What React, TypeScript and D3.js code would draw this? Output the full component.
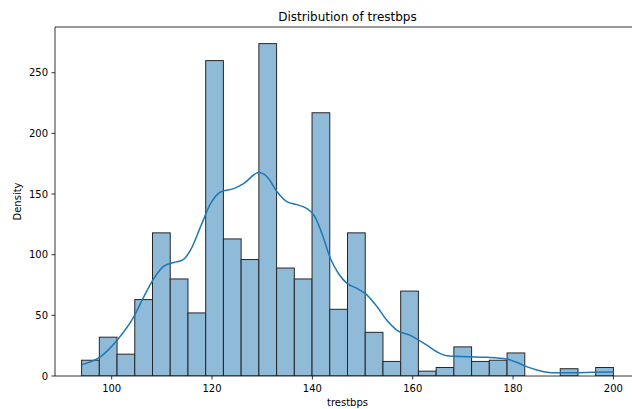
import React from "react";
import * as d3 from "d3";

// Histogram of resting blood pressure (30 equal-width bins from 94 to 200)
const binStart = 94;
const binEnd = 200;
const binCounts = [
  13, 32, 18, 63, 118, 80, 52, 260, 113, 96, 274, 89, 80, 217, 55, 118, 36, 12, 70, 4,
  7, 24, 12, 13, 19, 0, 0, 6, 0, 7,
];

// Kernel density estimate, scaled to the histogram
const kdeX = [
  94.0, 97.8, 101.1, 104.4, 106.4, 108.4, 110.4, 112.4, 114.1, 115.7, 117.7, 119.7, 121.7,
  124.3, 126.3, 129.3, 131.0, 133.0, 135.0, 136.9, 138.9, 140.4, 141.9, 143.6, 145.2, 146.9,
  148.9, 150.9, 152.9, 154.8, 156.8, 159.5, 162.8, 164.8, 166.8, 170.8, 174.7, 178.7, 180.7,
  182.7, 185.3, 188.0, 192.0, 196.0, 200.0,
];
const kdeY = [
  9.3, 15.9, 29.6, 48.8, 65.3, 80.4, 90.6, 93.6, 95.5, 103.7, 122.9, 142.0, 151.7, 154.5,
  158.6, 167.7, 164.1, 151.7, 143.5, 141.3, 138.0, 132.0, 117.5, 96.9, 84.5, 76.3, 72.2,
  66.7, 57.1, 46.1, 37.9, 33.5, 25.5, 20.0, 16.7, 15.9, 15.4, 14.0, 11.3, 7.7, 4.4, 2.7,
  2.7, 3.0, 3.3,
];

const xTicks = [100, 120, 140, 160, 180, 200];
const yTicks = [0, 50, 100, 150, 200, 250];

const W = 632;
const H = 409;
const margin = { left: 55, top: 27, right: 640, bottom: 376 };

export default function App() {
  const nBins = binCounts.length;
  const binW = (binEnd - binStart) / nBins;
  const pad = (binEnd - binStart) * 0.05;
  const x = d3.scaleLinear().domain([binStart - pad, binEnd + pad]).range([margin.left, margin.right]);
  const yMax = (d3.max(binCounts) ?? 0) * 1.05;
  const y = d3.scaleLinear().domain([0, yMax]).range([margin.bottom, margin.top]);

  const bins = binCounts.map((c, i) => ({
    x0: binStart + i * binW,
    x1: binStart + (i + 1) * binW,
    c,
  }));

  const line = d3
    .line<number>()
    .x((_, i) => x(kdeX[i]))
    .y((d) => y(d))
    .curve(d3.curveMonotoneX);

  const font = "DejaVu Sans, sans-serif";
  const textColor = "#000";

  return (
    <svg
      width={W}
      height={H}
      style={{ position: "absolute", left: 0, top: 0, background: "#fff" }}
      fontFamily={font}
    >
      <defs>
        <clipPath id="plot-clip">
          <rect x={margin.left} y={margin.top} width={margin.right - margin.left} height={margin.bottom - margin.top} />
        </clipPath>
      </defs>
      <g clipPath="url(#plot-clip)">
        {bins
          .filter((b) => b.c > 0)
          .map((b, i) => (
            <rect
              key={i}
              x={x(b.x0)}
              y={y(b.c)}
              width={x(b.x1) - x(b.x0)}
              height={y(0) - y(b.c)}
              fill="#8fbbd9"
              stroke="#262626"
              strokeWidth={1}
            />
          ))}
        <path d={line(kdeY) ?? ""} fill="none" stroke="#1f77b4" strokeWidth={1.5} />
      </g>

      {/* spines */}
      <line x1={margin.left} x2={margin.left} y1={margin.top} y2={margin.bottom} stroke="#000" strokeWidth={0.8} />
      <line x1={margin.left} x2={margin.right} y1={margin.bottom} y2={margin.bottom} stroke="#000" strokeWidth={0.8} />
      <line x1={margin.left} x2={margin.right} y1={margin.top} y2={margin.top} stroke="#000" strokeWidth={0.8} />

      {/* x axis */}
      {xTicks.map((t) => (
        <g key={t} transform={`translate(${x(t)},${margin.bottom})`}>
          <line y1={0} y2={3.5} stroke="#000" strokeWidth={0.8} />
          <text y={16} textAnchor="middle" fontSize={10} fill={textColor}>
            {t}
          </text>
        </g>
      ))}
      <text x={(margin.left + margin.right) / 2} y={406} textAnchor="middle" fontSize={10} fill={textColor}>
        trestbps
      </text>

      {/* y axis */}
      {yTicks.map((t) => (
        <g key={t} transform={`translate(${margin.left},${y(t)})`}>
          <line x1={0} x2={-3.5} stroke="#000" strokeWidth={0.8} />
          <text x={-7} dy="0.35em" textAnchor="end" fontSize={10} fill={textColor}>
            {t}
          </text>
        </g>
      ))}
      <text
        transform={`translate(21,${(margin.top + margin.bottom) / 2}) rotate(-90)`}
        textAnchor="middle"
        fontSize={10}
        fill={textColor}
      >
        Density
      </text>

      <text x={(margin.left + margin.right) / 2} y={21} textAnchor="middle" fontSize={12} fill={textColor}>
        Distribution of trestbps
      </text>
    </svg>
  );
}
